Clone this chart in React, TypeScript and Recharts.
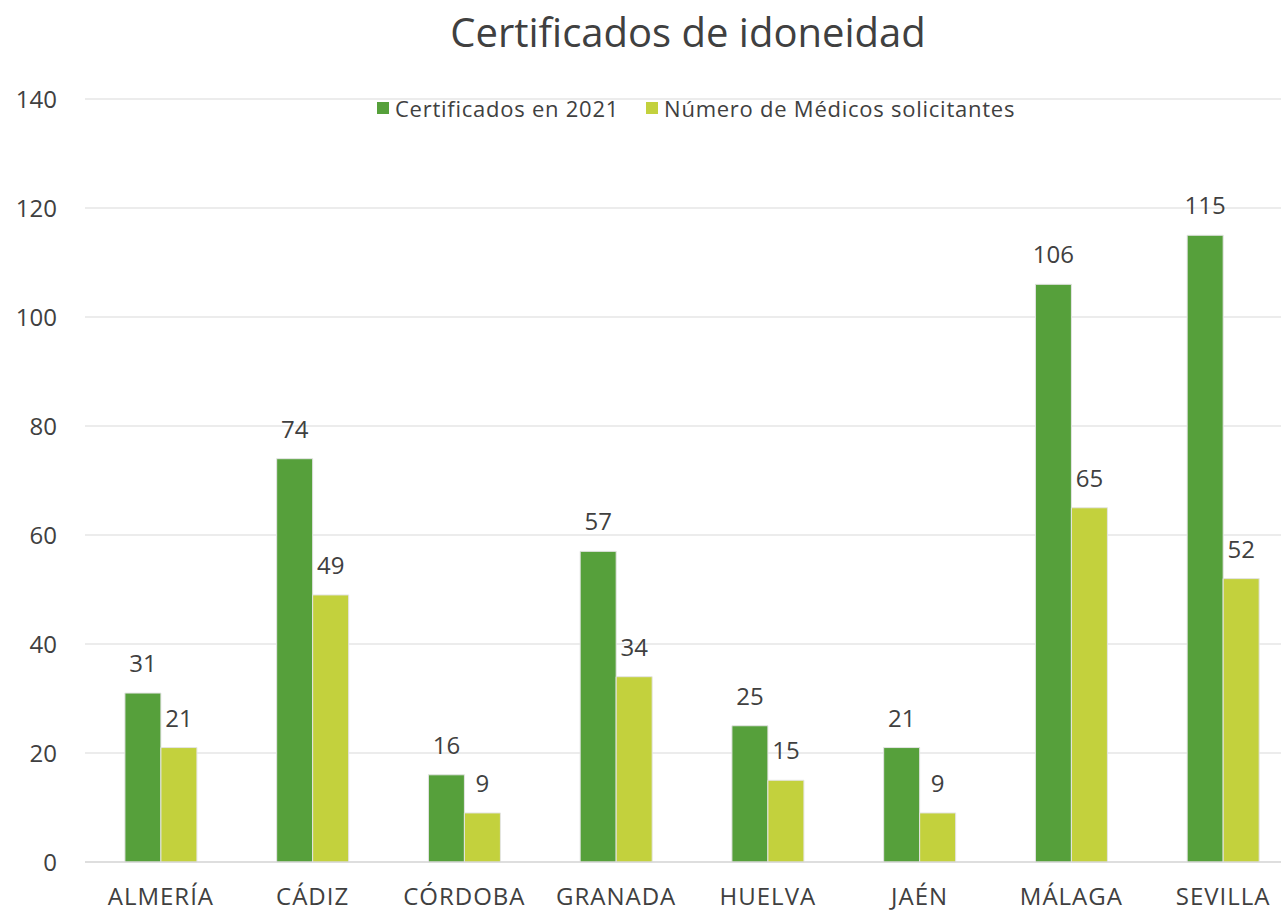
import React from "react";
import { BarChart, Bar, XAxis, YAxis, CartesianGrid, LabelList } from "recharts";

const provinces = ["ALMERÍA", "CÁDIZ", "CÓRDOBA", "GRANADA", "HUELVA", "JAÉN", "MÁLAGA", "SEVILLA"];
const certificados = [31, 74, 16, 57, 25, 21, 106, 115];
const medicos = [21, 49, 9, 34, 15, 9, 65, 52];
const yTicks = [0, 20, 40, 60, 80, 100, 120, 140];
const seriesNames = ["Certificados en 2021", "Número de Médicos solicitantes"];
const title = "Certificados de idoneidad";

const data = provinces.map((p, i) => ({ name: p, cert: certificados[i], med: medicos[i] }));

const FONT = "'Open Sans', sans-serif";
const TEXT = "#404040";
const GREEN = "#56A03B";
const LIME = "#C3D13D";

export default function App() {
  return (
    <div style={{ position: "absolute", left: 0, top: 0, width: 1281, height: 911, overflow: "hidden", background: "#fff" }}>
      <BarChart
        width={1320}
        height={911}
        data={data}
        margin={{ top: 99, right: 21, bottom: 9, left: 25 }}
        barCategoryGap="26.3%"
        barGap={0}
      >
        <CartesianGrid vertical={false} stroke="#d9d9d9" />
        <XAxis
          dataKey="name"
          height={40}
          tickSize={0}
          tickMargin={26}
          axisLine={{ stroke: "#d0d0d0" }}
          tick={{ fill: TEXT, fontSize: 24, fontFamily: FONT, letterSpacing: 1 }}
          interval={0}
        />
        <YAxis
          width={60}
          domain={[0, 140]}
          ticks={yTicks}
          tickSize={0}
          tickMargin={28}
          axisLine={false}
          tick={{ fill: TEXT, fontSize: 24, fontFamily: FONT }}
        />
        <Bar dataKey="cert" name={seriesNames[0]} fill={GREEN} stroke="#e4e4e4" strokeWidth={1} isAnimationActive={false}>
          <LabelList dataKey="cert" position="top" offset={21} fill={TEXT} fontSize={24} fontFamily={FONT} />
        </Bar>
        <Bar dataKey="med" name={seriesNames[1]} fill={LIME} stroke="#e4e4e4" strokeWidth={1} isAnimationActive={false}>
          <LabelList dataKey="med" position="top" offset={21} fill={TEXT} fontSize={24} fontFamily={FONT} />
        </Bar>
      </BarChart>
      <div style={{ position: "absolute", left: 0, top: 4, width: 1376, textAlign: "center", fontFamily: FONT, fontSize: 40, color: TEXT }}>
        {title}
      </div>
      <div style={{ position: "absolute", left: 377, top: 93, display: "flex", alignItems: "center", fontFamily: FONT, fontSize: 22, letterSpacing: 0.75, color: TEXT, whiteSpace: "nowrap", lineHeight: "30px" }}>
        <span style={{ width: 12, height: 12, background: GREEN, display: "inline-block", marginRight: 6 }} />
        <span>{seriesNames[0]}</span>
        <span style={{ width: 12, height: 12, background: LIME, display: "inline-block", marginLeft: 27, marginRight: 6 }} />
        <span>{seriesNames[1]}</span>
      </div>
    </div>
  );
}
